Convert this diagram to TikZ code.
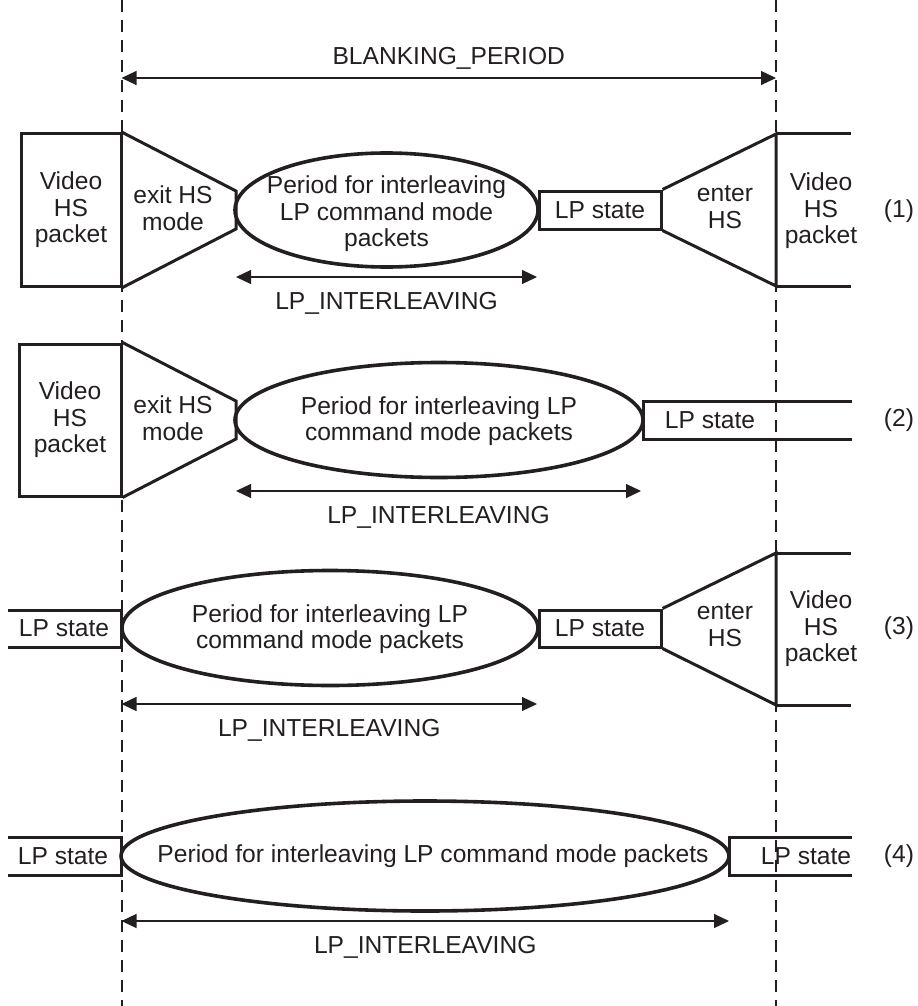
\documentclass[tikz,border=0pt]{standalone}
\usepackage{fontspec}
\setmainfont{Liberation Sans}
\usetikzlibrary{arrows.meta,shapes.geometric}
\definecolor{ink}{RGB}{35,31,32}
\begin{document}
\begin{tikzpicture}[x=0.5pt, y=-0.5pt, font=\fontsize{12.3}{13.3}\selectfont, line join=miter, >={Triangle[length=7.5pt,width=7pt]},
  box/.style={draw=ink, line width=1.5pt},
  period/.style={ellipse, draw=ink, line width=1.8pt, inner sep=0pt},
  txt/.style={align=center, inner sep=0pt, text=ink},
  dim/.style={<->, draw=ink, line width=0.6pt},
  guide/.style={draw=ink, line width=1pt, dash pattern=on 6pt off 4pt}]
\useasboundingbox (0,0) rectangle (917,1006);
\foreach \x in {121.5,776} \draw[guide] (\x,0) -- (\x,1006);
\coordinate (bl) at (121.5,78); \coordinate (br) at (776,78);
\draw[dim] (bl) -- (br) node[midway, above=4pt, txt] (blank) {BLANKING\_PERIOD};

% (1)
\node[box, txt, minimum width=50pt, minimum height=76pt] (vid1) at (71,210) {Video\\HS\\packet};
\draw[box] (vid1.north east) -- (236,191) -- (236,229) -- (vid1.south east);
\node[txt] (exit1) at (173,208) {exit HS\\mode};
\node[period, minimum width=151.5pt, minimum height=57pt] (ell1) at (386.5,210) {};
\node[txt] (per1) at (386.5,214) {Period for interleaving\\LP command mode\\packets};
\node[box, txt, minimum width=61pt, minimum height=19pt] (lp1) at (600,210) {LP state};
\draw[box] (lp1.north east) -- (776,134) -- (776,286) -- (lp1.south east);
\draw[box] (776,134) -- (851,134) (776,286) -- (851,286);
\node[txt] (enter1) at (725,207) {enter\\HS};
\node[txt] (vid1r) at (821,211) {Video\\HS\\packet};

% (2)
\node[box, txt, minimum width=51pt, minimum height=76pt] (vid2) at (70,420) {Video\\HS\\packet};
\draw[box] (vid2.north east) -- (236,401) -- (236,439) -- (vid2.south east);
\node[txt] (exit2) at (173,418) {exit HS\\mode};
\node[period, minimum width=204pt, minimum height=57.5pt] (ell2) at (439,420) {};
\node[txt] (per2) at (439,421) {Period for interleaving LP\\command mode packets};
\draw[box] (852,401) -- (643,401) -- (643,439) -- (852,439);
\node[txt] (lp2) at (710,420) {LP state};

% (3)
\draw[box] (8,610) -- (121.5,610) -- (121.5,647) -- (8,647);
\node[txt] (lp3l) at (64,628.5) {LP state};
\node[period, minimum width=208pt, minimum height=57.5pt] (ell3) at (330,628) {};
\node[txt] (per3) at (330,629) {Period for interleaving LP\\command mode packets};
\node[box, txt, minimum width=61pt, minimum height=18.5pt] (lp3) at (600,628.5) {LP state};
\draw[box] (lp3.north east) -- (776,553) -- (776,705) -- (lp3.south east);
\draw[box] (776,553) -- (851,553) (776,705) -- (851,705);
\node[txt] (enter3) at (725,625) {enter\\HS};
\node[txt] (vid3r) at (821,629) {Video\\HS\\packet};

% (4)
\draw[box] (8,837) -- (121.5,837) -- (121.5,875) -- (8,875);
\node[txt] (lp4l) at (63,856) {LP state};
\node[period, minimum width=304pt, minimum height=55pt] (ell4) at (425,856) {};
\node[txt] (per4) at (433,856) {Period for interleaving LP command mode packets};
\draw[box] (852,837) -- (729,837) -- (729,875) -- (852,875);
\node[txt] (lp4r) at (806,856) {LP state};

\foreach \n/\y in {1/211,2/420,3/628,4/856} \node[txt] (num\n) at (899,\y) {(\n)};
\foreach \n/\xl/\xr/\y in {1/236/537/277, 2/236/641/491, 3/121.5/537/704, 4/121.5/729/921}{
  \coordinate (dl\n) at (\xl,\y); \coordinate (dr\n) at (\xr,\y);
  \draw[dim] (dl\n) -- (dr\n) node[midway, below=7.5pt, txt] (dim\n) {LP\_INTERLEAVING};
}
\end{tikzpicture}
\end{document}
